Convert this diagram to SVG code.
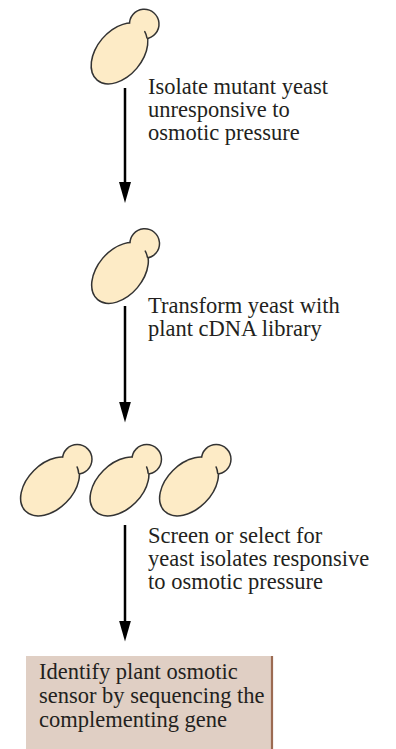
<svg xmlns="http://www.w3.org/2000/svg" xmlns:xlink="http://www.w3.org/1999/xlink" width="396" height="749" viewBox="0 0 396 749">
  <style>
    .rim { fill: #fdebc6; stroke: #333333; stroke-width: 3; }
    .body { fill: #fdebc6; stroke: none; }
    .crease { fill: none; stroke: #333333; stroke-width: 1.5; stroke-linecap: round; }
    .label { font-family: "Liberation Serif", "Times New Roman", serif; font-size: 22.5px; fill: #231f20; }
    .shaft { stroke: #000000; stroke-width: 2.5; fill: none; marker-end: url(#head); }
    .panel { fill: #e0cfc4; }
    .panel-edge { stroke: #9c6b52; stroke-width: 2.2; }
  </style>
  <defs>
    <marker id="head" markerUnits="userSpaceOnUse" markerWidth="21" markerHeight="12" refX="6" refY="6" orient="auto" viewBox="0 0 21 12">
      <path d="M0 0 L21 6 L0 12 Z" fill="#000000"/>
    </marker>
    <!-- budding yeast cell, long axis along +x, bud at the tip -->
    <g id="yeast">
      <circle class="rim" cx="38.5" cy="0" r="14"/>
      <ellipse class="rim" cx="0" cy="0" rx="34" ry="22"/>
      <circle class="body" cx="38.5" cy="0" r="14"/>
      <ellipse class="body" cx="0" cy="0" rx="34" ry="22"/>
      <path class="crease" d="M29.7 10.8 A34 22 0 0 0 33 5.3"/>
    </g>
  </defs>

  <g id="step-mutant">
    <use xlink:href="#yeast" transform="translate(119.5 53.5) rotate(-50)"/>
    <text class="label" x="148" y="94">Isolate mutant yeast</text>
    <text class="label" x="148" y="117">unresponsive to</text>
    <text class="label" x="148" y="140">osmotic pressure</text>
  </g>

  <g id="step-transform">
    <use xlink:href="#yeast" transform="translate(120 273) rotate(-50)"/>
    <text class="label" x="148" y="313">Transform yeast with</text>
    <text class="label" x="148" y="336">plant cDNA library</text>
  </g>

  <g id="step-screen">
    <use xlink:href="#yeast" transform="translate(50 486.5) rotate(-45)"/>
    <use xlink:href="#yeast" transform="translate(119.5 486.5) rotate(-45)"/>
    <use xlink:href="#yeast" transform="translate(189 486.5) rotate(-45)"/>
    <text class="label" x="148" y="543">Screen or select for</text>
    <text class="label" x="148" y="566">yeast isolates responsive</text>
    <text class="label" x="148" y="589">to osmotic pressure</text>
  </g>

  <g id="result">
    <rect class="panel" x="26" y="656" width="246" height="93"/>
    <line class="panel-edge" x1="272" y1="656" x2="272" y2="749"/>
    <text class="label" x="39" y="679">Identify plant osmotic</text>
    <text class="label" x="39" y="703">sensor by sequencing the</text>
    <text class="label" x="39" y="727">complementing gene</text>
  </g>

  <g id="connectors">
    <line class="shaft" x1="125" y1="88" x2="125" y2="188"/>
    <line class="shaft" x1="125" y1="306" x2="125" y2="407.5"/>
    <line class="shaft" x1="125" y1="525" x2="125" y2="626.5"/>
  </g>
</svg>
